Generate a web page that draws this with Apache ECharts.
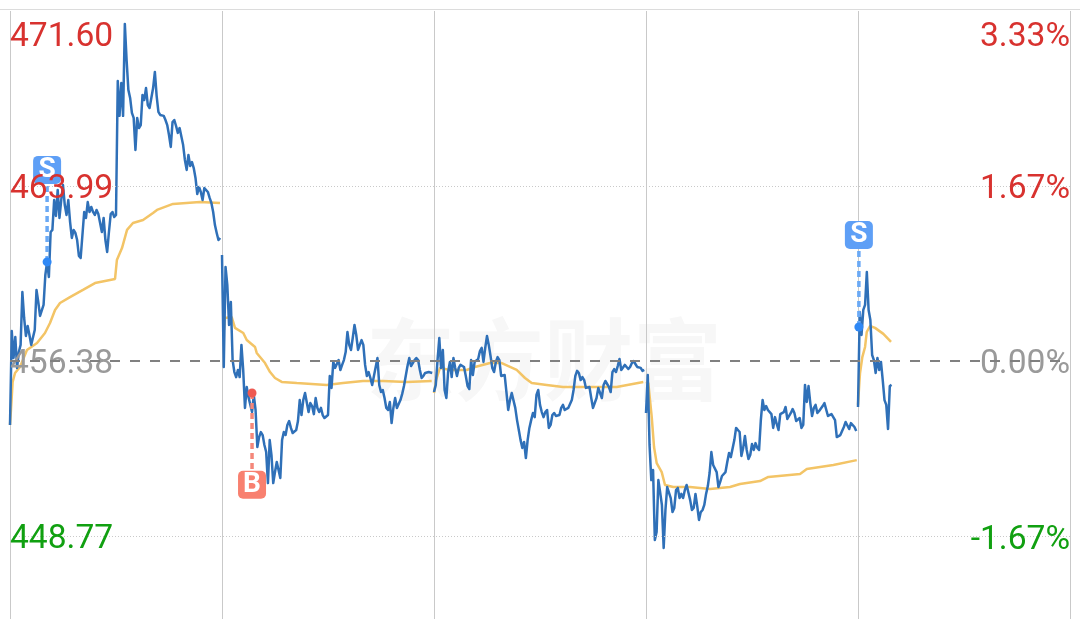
<!DOCTYPE html>
<html><head><meta charset="utf-8">
<style>html,body{margin:0;padding:0;background:#fff;height:619px;overflow:hidden}#c{width:1080px;height:740px}</style>
<script src="https://cdn.jsdelivr.net/npm/echarts@6/dist/echarts.min.js"></script>
</head><body><div id="c"></div>
<script>
// Price sampled every 2 minutes, one list per trading day
const priceDay1=[453.60,457.68,456.51,457.42,456.08,456.77,457.08,459.38,458.25,457.47,457.90,457.51,457.08,457.12,457.73,459.47,458.95,458.34,458.38,458.82,460.12,460.69,460.03,461.99,462.08,463.38,462.69,463.82,462.60,463.38,464.03,463.16,462.73,463.38,462.43,461.73,462.08,461.95,461.64,460.95,460.86,460.86,462.86,462.60,463.29,462.86,463.08,462.86,462.73,462.95,462.77,462.69,461.99,462.60,461.64,461.12,461.99,462.77,462.86,462.64,462.73,468.56,467.04,468.47,467.04,471.04,469.47,468.17,467.82,467.17,466.95,465.56,466.95,466.51,466.64,467.95,467.73,468.25,467.51,467.38,467.38,468.25,468.95,467.91,467.21,467.08,467.04,467.04,466.86,466.64,466.21,465.69,466.77,466.86,466.60,466.30,466.51,466.43,465.77,465.12,464.69,465.34,464.86,465.03,464.77,464.34,463.64,463.95,463.73,463.38,463.90,463.82,463.73,463.47,463.25,462.86,462.29,461.95,461.64,461.73];
const priceDay2=[460.99,456.12,460.47,459.69,457.95,458.95,456.42,455.90,455.68,455.99,455.68,457.08,455.99,454.34,455.25,454.81,454.77,454.16,454.90,454.25,452.64,453.07,453.29,453.16,452.73,452.42,451.07,452.94,452.29,451.07,451.55,451.99,451.64,451.29,452.94,453.29,453.16,453.60,453.77,453.47,453.25,453.25,453.38,453.77,454.68,454.03,454.68,454.99,454.95,454.16,454.55,454.42,454.07,454.77,454.34,454.16,454.34,454.03,453.90,453.90,454.03,455.73,455.21,456.34,456.08,456.08,456.42,455.99,456.21,456.42,456.77,457.64,457.08,456.86,457.38,457.95,457.51,456.86,457.08,457.29,457.08,456.21,455.73,455.90,455.64,455.34,455.73,456.12,456.51,455.34,455.03,455.12,454.77,454.34,454.25,454.60,453.68,454.34,454.77,454.34,454.34,454.68,454.95,455.29,455.73,456.16,456.51,456.16,456.21,456.42,456.51,456.42,455.99,455.64,455.73,455.86,455.90,455.90,455.86,455.86];
const priceDay3=[455.03,455.34,456.42,457.38,456.08,456.86,455.12,454.77,455.90,456.34,455.68,456.51,456.08,455.73,456.08,456.21,456.21,456.12,455.73,455.29,455.16,456.42,455.77,456.34,456.42,456.47,456.81,456.95,456.34,456.95,457.47,457.08,456.60,456.08,455.90,456.34,456.55,456.42,455.73,455.68,455.77,455.03,454.25,454.68,454.99,454.95,454.34,453.81,453.38,452.94,452.60,452.86,452.16,452.94,453.47,453.81,454.12,453.94,454.90,455.12,454.47,454.16,453.94,454.16,454.25,453.47,453.60,454.03,454.12,453.99,453.99,454.03,454.34,454.47,454.25,454.29,454.34,454.38,454.68,455.12,455.73,455.95,455.86,455.55,455.68,455.55,455.21,455.21,455.25,454.77,454.34,454.29,454.77,455.21,454.99,454.77,455.34,455.51,455.38,455.25,455.03,455.90,456.03,455.90,456.16,456.47,455.99,456.03,456.21,456.12,456.03,456.12,456.29,456.38,456.25,456.12,456.12,456.08,455.95,455.99];
const priceDay4=[454.12,455.77,452.73,451.20,451.64,448.60,448.94,451.20,450.68,450.12,448.25,449.90,450.90,450.94,450.42,449.81,449.99,450.77,450.86,450.42,450.60,450.42,450.77,450.99,451.03,450.33,449.90,449.99,450.60,450.07,449.47,449.81,449.90,450.12,450.60,450.94,451.51,452.42,451.86,451.81,451.55,450.90,451.12,451.38,451.34,451.55,451.99,452.38,452.20,452.16,452.94,453.47,453.38,453.29,452.25,452.60,453.12,452.51,452.12,452.29,452.77,452.51,452.81,452.60,452.51,453.81,454.68,454.25,454.42,454.25,454.29,454.07,453.47,453.94,453.64,453.38,454.07,453.99,454.16,454.38,453.86,453.99,454.12,454.29,454.12,453.77,453.81,453.90,453.47,453.60,455.34,454.60,455.29,454.55,453.99,454.34,454.47,454.12,454.21,454.29,454.42,454.55,454.60,453.99,454.07,454.07,453.94,453.81,453.07,453.07,453.16,453.34,453.51,453.73,453.77,453.42,453.68,453.68,453.51,453.34];
const priceDay5=[454.38,458.51,457.51,458.60,458.82,460.25,458.60,458.16,456.64,456.42,455.86,456.51,455.99,456.34,455.55,454.68,454.47,453.42,455.29,455.34];
const priceDays=[priceDay1,priceDay2,priceDay3,priceDay4,priceDay5];

// Average price line, minute of the session and value; null breaks the line between days
const avgMinutes=[0,1.1,3,5.7,11.3,19.2,30.6,39.6,45.3,51,56.6,67.9,82.6,96.2,118.9,121,126.8,132.5,139.2,150.6,161.9,166.4,184.5,215,237.7,238,
242.3,243.4,251,254.7,264.1,268,277.4,279.3,288.7,294.4,300,307.6,324.6,358.5,377,399.6,422.3,449.1,477.4,478,
480,482.3,486.8,498.1,517,526.4,543.4,556.7,573.6,583,590.6,607.6,626,652.9,686.8,717,718,
720,722.6,726.5,729.1,732.1,737.8,741.5,750.9,769.8,792.5,815.1,826.4,849.1,858.5,894.4,902,932.1,958.6,959,
960,961.5,962.3,964.9,968,969.9,973.6,979.3,988.7,997.4];
const avgPrices=[453.60,454.25,455.47,455.86,456.12,456.86,457.16,457.60,458.03,458.60,458.90,459.16,459.47,459.77,459.95,460.77,461.29,462.08,462.38,462.51,462.82,462.95,463.21,463.29,463.25,null,
457.73,458.25,458.29,457.82,457.60,457.29,456.99,456.73,456.29,455.90,455.64,455.47,455.42,455.34,455.42,455.51,455.51,455.47,455.51,null,
454.99,455.55,456.08,455.99,455.99,456.12,456.29,456.29,455.99,455.64,455.42,455.34,455.25,455.25,455.25,455.47,null,
455.47,455.42,453.94,452.64,451.94,451.55,450.99,450.90,450.90,450.81,450.90,451.03,451.16,451.34,451.47,451.68,451.86,452.07,null,
454.47,455.42,455.86,456.55,456.99,457.64,457.90,457.82,457.56,457.21];

// Trade signals
const signalLabels=['S','B','S'];
const signalMinutes=[42,274,961];
const signalPrices=[460.69,454.99,457.86];
const signalBadgePrices=[464.69,451.0,461.86];

// Axis ticks
const priceTicks=[448.77,456.38,463.99,471.60];
const percentTicks=[-1.67,0,1.67,3.33];
const priceMin=441.16, priceMax=471.60, prevClose=456.38;
const dayMinutes=240, dayCount=5, sampleStep=2;

const RED='#d8322f', GREEN='#11a011', GRAY='#9a9a9a';
const FS=33.6, FF='Roboto';
const tier=(c,extra)=>Object.assign({color:c,fontSize:FS,fontFamily:FF,padding:[8,0,0,0]},extra||{});
const richTiers={up:tier(RED),top:tier(RED,{padding:[53,0,0,0]}),mid:tier(GRAY),down:tier(GREEN)};
function wrap(txt,v,zero,top){
  const k=v===top?'top':v>zero?'up':v<zero?'down':'mid';
  return '{'+k+'|'+txt+'}';
}
const colorSplit=['#c9c9c9','rgba(0,0,0,0)','#c9c9c9','rgba(0,0,0,0)'];

const series=[];
priceDays.forEach((d,k)=>{
  series.push({type:'line',name:'price'+k,data:d.map((v,i)=>[k*dayMinutes+i*sampleStep,v]),
    showSymbol:false,symbol:'none',smooth:false,z:3,animation:false,silent:true,
    lineStyle:{color:'#2f70b8',width:2.5,join:'round'}});
});
series.push({type:'line',name:'avg',data:avgMinutes.map((m,i)=>[m,avgPrices[i]]),connectNulls:false,
  showSymbol:false,symbol:'none',z:2,animation:false,silent:true,lineStyle:{color:'#f3c466',width:2.5}});
// previous-close dashed line on top of labels
series.push({type:'line',name:'prev',data:[],z:8,animation:false,silent:true,
  markLine:{silent:true,symbol:'none',animation:false,label:{show:false},z:8,
    lineStyle:{color:'#808080',width:2,type:[10,10]},data:[{yAxis:prevClose}]}});
// signal stems, dots and badges
signalLabels.forEach((s,i)=>{
  const sell=s==='S';
  const stem=sell?'#6aa9f5':'#f4877a', dot=sell?'#2f88f5':'#ee5a52', badge=sell?'#5e9ff6':'#f8806f';
  series.push({type:'line',name:'stem'+i,data:[[signalMinutes[i],signalPrices[i]],[signalMinutes[i],signalBadgePrices[i]]],
    symbol:'none',z:3,animation:false,silent:true,lineStyle:{color:stem,width:3.5,type:[6,4]}});
  series.push({type:'scatter',name:'dot'+i,data:[[signalMinutes[i],signalPrices[i]]],symbolSize:9,z:4,animation:false,silent:true,
    itemStyle:{color:dot,opacity:1}});
  series.push({type:'scatter',name:'badge'+i,data:[[signalMinutes[i],signalBadgePrices[i]]],symbol:'path://M5,0H23A5,5 0 0 1 28,5V23A5,5 0 0 1 23,28H5A5,5 0 0 1 0,23V5A5,5 0 0 1 5,0Z',
    symbolSize:[28,28],z:4,animation:false,silent:true,itemStyle:{color:badge,opacity:1},
    label:{show:true,position:'inside',formatter:s,color:'#fff',fontSize:28,fontWeight:'bold',fontFamily:FF}});
});

const chart=echarts.init(document.getElementById('c'),null,{renderer:'canvas'});
chart.setOption({
  animation:false,backgroundColor:'#fff',
  grid:{left:10,right:10,top:11,height:700,containLabel:false,show:false},
  graphic:[
    {type:'text',z:0,silent:true,left:366,top:315,style:{text:'东方财富',fontSize:89,fontWeight:'bold',fontFamily:'"Noto Sans CJK SC"',fill:'#f7f7f7'}},
    {type:'line',z:0,silent:true,shape:{x1:0,y1:9.5,x2:1080,y2:9.5},style:{stroke:'#dcdcdc',lineWidth:1}}
  ],
  xAxis:{type:'value',min:0,max:dayMinutes*dayCount,interval:dayMinutes,
    axisLine:{show:false},axisTick:{show:false},axisLabel:{show:false},
    splitLine:{show:true,lineStyle:{color:'#c9c9c9',width:1}}},
  yAxis:[
    {type:'value',min:priceMin,max:priceMax,z:6,position:'left',
     axisLine:{show:false},axisTick:{show:false,customValues:priceTicks},
     splitLine:{show:true,lineStyle:{color:colorSplit,width:1,type:[1,2]}},
     axisLabel:{inside:true,margin:0,customValues:priceTicks,showMinLabel:true,showMaxLabel:true,
       formatter:v=>wrap(v.toFixed(2),+v.toFixed(2),prevClose,priceMax),rich:richTiers}},
    {type:'value',min:-3.335,max:3.335,z:6,position:'right',
     axisLine:{show:false},axisTick:{show:false,customValues:percentTicks},splitLine:{show:false},
     axisLabel:{inside:true,margin:0,customValues:percentTicks,showMinLabel:true,showMaxLabel:true,
       formatter:v=>wrap(v.toFixed(2)+'%',+v.toFixed(2),0,3.33),rich:richTiers}}
  ],
  series:series
});
</script></body></html>
